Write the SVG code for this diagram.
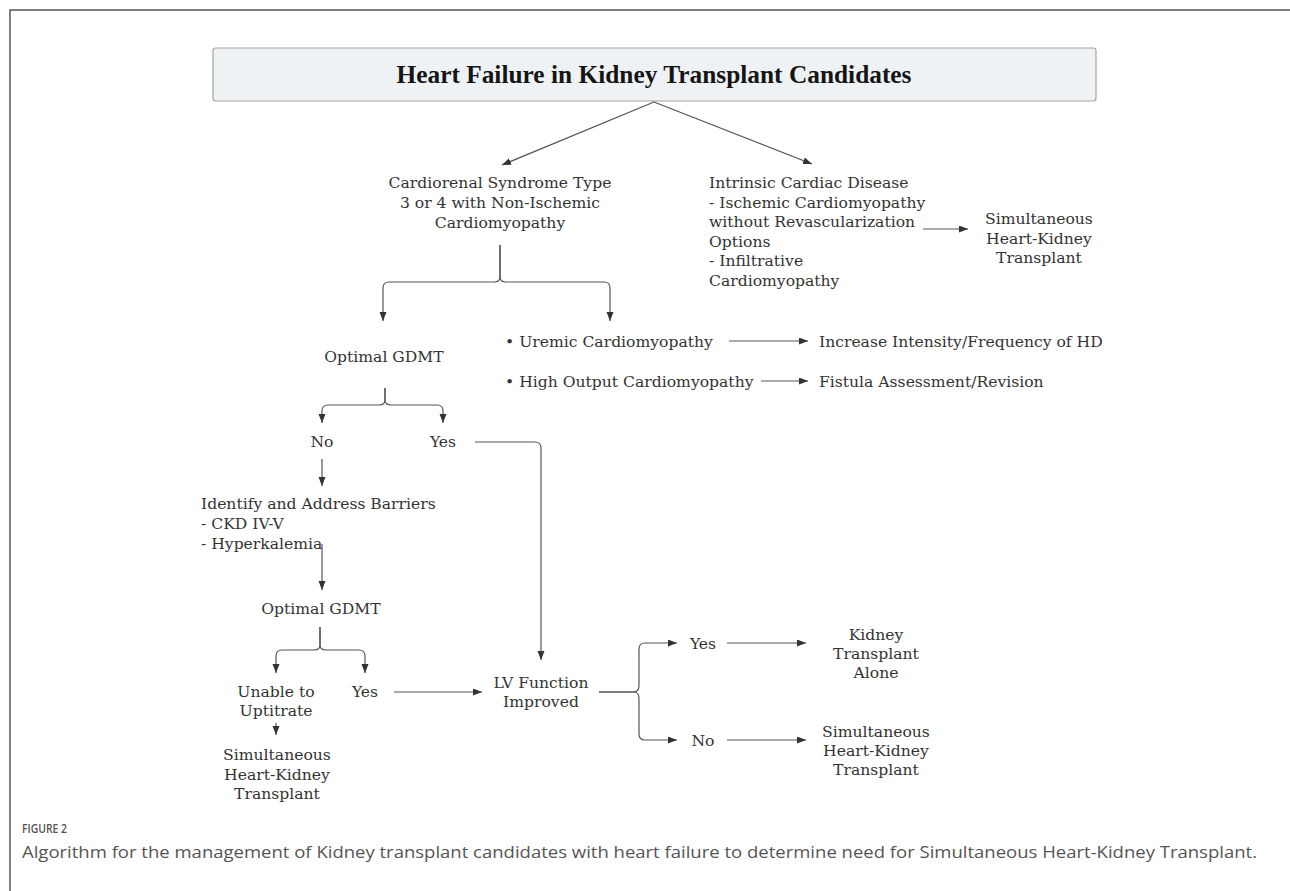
<svg xmlns="http://www.w3.org/2000/svg" width="1290" height="891" viewBox="0 0 1290 891">
<defs>
<marker id="ah" markerUnits="userSpaceOnUse" markerWidth="10" markerHeight="8" refX="9" refY="3.5" orient="auto">
<path d="M0,0 L9,3.5 L0,7 z" fill="#333"/>
</marker>
<style>
.t{font-family:"DejaVu Serif","Liberation Serif",serif;font-size:15.6px;fill:#333}
.c{text-anchor:middle}
.ln{fill:none;stroke:#555;stroke-width:1.2}
.ar{fill:none;stroke:#555;stroke-width:1.2;marker-end:url(#ah)}
.cap{font-family:"Open Sans","Liberation Sans",sans-serif;fill:#555}
</style>
</defs>
<rect width="1290" height="891" fill="#fff"/>
<path d="M1290,10 H10 V891" fill="none" stroke="#555" stroke-width="1.5"/>

<g id="title">
<rect x="213" y="48" width="883" height="53" rx="3" fill="#eff2f4" stroke="#a3a3a3" stroke-width="1.2"/>
<text x="654" y="83" text-anchor="middle" font-family="Liberation Serif, serif" font-weight="bold" font-size="24.5" fill="#151515" textLength="515" lengthAdjust="spacingAndGlyphs">Heart Failure in Kidney Transplant Candidates</text>
</g>

<g id="connectors">
<path class="ar" d="M654,102 L502,165"/>
<path class="ar" d="M654,102 L812,164"/>
<path class="ar" d="M923,229 H968"/>
<path class="ar" d="M500,245 V277 Q500,282 494,282 H389 Q383,282 383,288 V321"/>
<path class="ar" d="M500,245 V277 Q500,282 506,282 H604 Q610,282 610,288 V321"/>
<path class="ar" d="M729,341 H808"/>
<path class="ar" d="M761,381 H808"/>
<path class="ar" d="M385,388 V400 Q385,405 379,405 H328 Q322,405 322,411 V423"/>
<path class="ar" d="M385,388 V400 Q385,405 391,405 H437 Q443,405 443,411 V423"/>
<path class="ar" d="M475,442 H535 Q541,442 541,448 V660"/>
<path class="ar" d="M322,459 V486"/>
<path class="ar" d="M322,544 V590"/>
<path class="ar" d="M320,627 V645 Q320,650 314,650 H282 Q276,650 276,656 V673"/>
<path class="ar" d="M320,627 V645 Q320,650 326,650 H359 Q365,650 365,656 V673"/>
<path class="ar" d="M276,723 V735"/>
<path class="ar" d="M394,692 H482"/>
<path class="ar" d="M599,692 H633 Q639,692 639,686 V649 Q639,643 645,643 H677"/>
<path class="ar" d="M599,692 H633 Q639,692 639,698 V734 Q639,740 645,740 H677"/>
<path class="ar" d="M727,643 H806"/>
<path class="ar" d="M727,740 H806"/>
</g>

<g id="cardiorenal">
<text class="t c" x="500" y="188">Cardiorenal Syndrome Type</text>
<text class="t c" x="500" y="208">3 or 4 with Non-Ischemic</text>
<text class="t c" x="500" y="228">Cardiomyopathy</text>
</g>

<g id="intrinsic">
<text class="t" x="709" y="188">Intrinsic Cardiac Disease</text>
<text class="t" x="709" y="207.5">- Ischemic Cardiomyopathy</text>
<text class="t" x="709" y="227">without Revascularization</text>
<text class="t" x="709" y="246.5">Options</text>
<text class="t" x="709" y="266">- Infiltrative</text>
<text class="t" x="709" y="285.5">Cardiomyopathy</text>
</g>

<g id="shkt1">
<text class="t c" x="1039" y="224">Simultaneous</text>
<text class="t c" x="1039" y="243.5">Heart-Kidney</text>
<text class="t c" x="1039" y="263">Transplant</text>
</g>

<g id="gdmt1"><text class="t c" x="384" y="362">Optimal GDMT</text></g>
<g id="uremic"><text class="t" x="505" y="347">• Uremic Cardiomyopathy</text></g>
<g id="increase"><text class="t" x="819" y="347">Increase Intensity/Frequency of HD</text></g>
<g id="highoutput"><text class="t" x="505" y="387">• High Output Cardiomyopathy</text></g>
<g id="fistula"><text class="t" x="819" y="387">Fistula Assessment/Revision</text></g>

<g id="no1"><text class="t c" x="322" y="447">No</text></g>
<g id="yes1"><text class="t c" x="443" y="447">Yes</text></g>

<g id="barriers">
<text class="t" x="201" y="509">Identify and Address Barriers</text>
<text class="t" x="201" y="529">- CKD IV-V</text>
<text class="t" x="201" y="549">- Hyperkalemia</text>
</g>

<g id="gdmt2"><text class="t c" x="321" y="614">Optimal GDMT</text></g>

<g id="unable">
<text class="t c" x="276" y="697">Unable to</text>
<text class="t c" x="276" y="716">Uptitrate</text>
</g>
<g id="yes2"><text class="t c" x="365" y="697">Yes</text></g>

<g id="shkt2">
<text class="t c" x="277" y="760">Simultaneous</text>
<text class="t c" x="277" y="780">Heart-Kidney</text>
<text class="t c" x="277" y="799">Transplant</text>
</g>

<g id="lv">
<text class="t c" x="541" y="688">LV Function</text>
<text class="t c" x="541" y="707">Improved</text>
</g>

<g id="yes3"><text class="t c" x="703" y="649">Yes</text></g>
<g id="no3"><text class="t c" x="703" y="746">No</text></g>

<g id="kta">
<text class="t c" x="876" y="640">Kidney</text>
<text class="t c" x="876" y="659">Transplant</text>
<text class="t c" x="876" y="678">Alone</text>
</g>

<g id="shkt3">
<text class="t c" x="876" y="737">Simultaneous</text>
<text class="t c" x="876" y="756">Heart-Kidney</text>
<text class="t c" x="876" y="775">Transplant</text>
</g>

<g id="caption">
<text class="cap" x="22" y="833" font-size="13" font-weight="600" textLength="45" lengthAdjust="spacingAndGlyphs">FIGURE 2</text>
<text class="cap" x="22" y="858" font-size="16.5" textLength="1235" lengthAdjust="spacingAndGlyphs">Algorithm for the management of Kidney transplant candidates with heart failure to determine need for Simultaneous Heart-Kidney Transplant.</text>
</g>
</svg>
